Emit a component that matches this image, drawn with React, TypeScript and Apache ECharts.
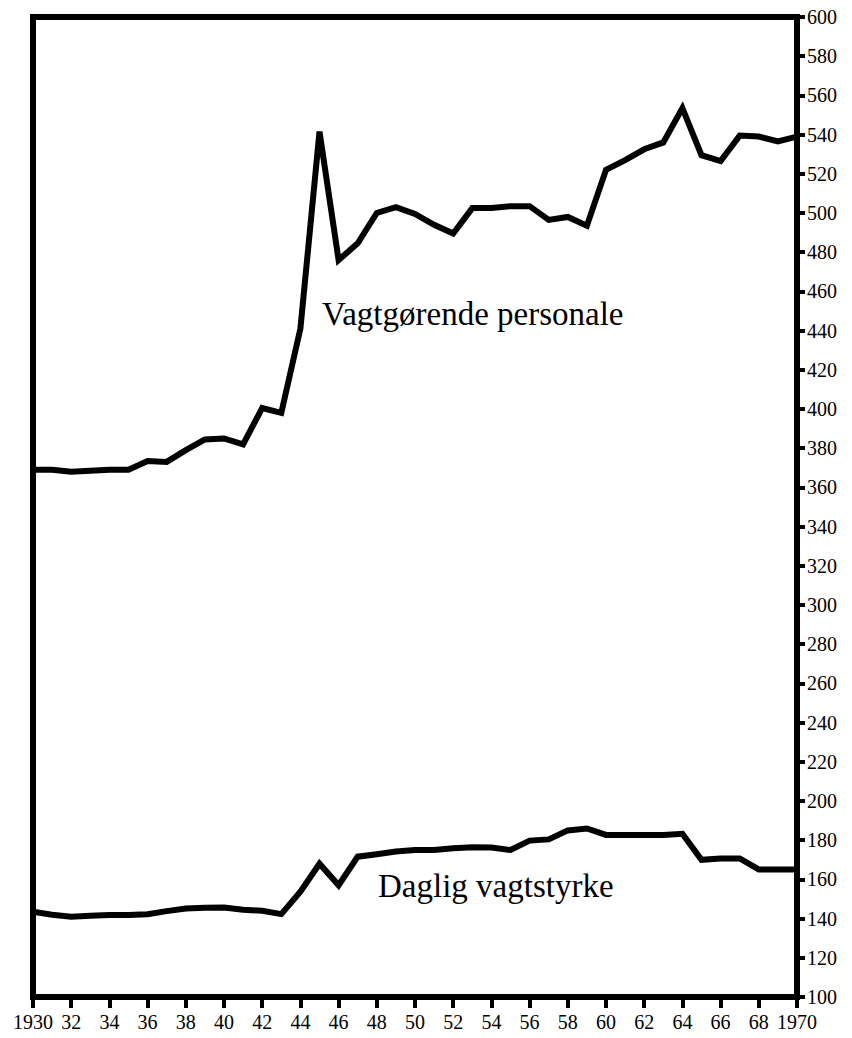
import React, { useEffect, useRef } from "react";
import * as echarts from "echarts";

const years = [1930,1931,1932,1933,1934,1935,1936,1937,1938,1939,1940,1941,1942,1943,1944,1945,1946,1947,1948,1949,1950,1951,1952,1953,1954,1955,1956,1957,1958,1959,1960,1961,1962,1963,1964,1965,1966,1967,1968,1969,1970];
const personale = [369,369,368,368.5,369,369,373.5,373,379,384.5,385,382,400.5,398,441,541.5,476,484.5,500,503,499.5,494,489.5,502.5,502.5,503.5,503.5,496.5,498,493.5,522,527,532.5,536,553.5,529.5,526.5,539.5,539,536.5,539];
const daglig = [143.5,142,141,141.5,141.8,141.8,142.2,143.8,145.2,145.5,145.7,144.5,144,142.3,153.7,168,157,171.6,172.8,174.2,175,175,175.9,176.4,176.3,175,179.8,180.4,185,186,182.7,182.7,182.7,182.7,183.3,170,170.7,170.7,165.1,165,165];
const personaleLabel = "Vagtgørende personale";
const dagligLabel = "Daglig vagtstyrke";

const FONT = "Liberation Serif";

export default function App() {
  const ref = useRef<HTMLDivElement>(null);
  useEffect(() => {
    if (!ref.current) return;
    const chart = echarts.init(ref.current, null, { renderer: "svg" });
    const toPairs = (vals: number[]) => years.map((y, i) => [y, vals[i]]);
    const lineStyle = { color: "#000", width: 6, join: "miter" as const };
    chart.setOption({
      animation: false,
      backgroundColor: "#fff",
      grid: {
        left: 33,
        right: 55,
        top: 17,
        bottom: 41,
        show: true,
        borderColor: "#000",
        borderWidth: 6,
      },
      xAxis: {
        type: "value",
        min: 1930,
        max: 1970,
        interval: 2,
        axisLine: { show: true, lineStyle: { color: "#000", width: 6 } },
        axisTick: { show: true, length: 11, lineStyle: { color: "#000", width: 4 } },
        splitLine: { show: false },
        axisLabel: {
          color: "#000",
          fontFamily: FONT,
          fontSize: 20,
          margin: 15,
          formatter: (v: number) => (v === 1930 || v === 1970 ? String(v) : String(v % 100)),
        },
      },
      yAxis: {
        type: "value",
        position: "right",
        min: 100,
        max: 600,
        interval: 20,
        axisLine: { show: true, lineStyle: { color: "#000", width: 6 } },
        axisTick: { show: true, length: 8, lineStyle: { color: "#000", width: 4 } },
        splitLine: { show: false },
        axisLabel: {
          color: "#000",
          fontFamily: FONT,
          fontSize: 20,
          margin: 10,
        },
      },
      series: [
        {
          type: "line",
          data: toPairs(personale),
          symbol: "none",
          lineStyle,
        },
        {
          type: "line",
          data: toPairs(daglig),
          symbol: "none",
          lineStyle,
        },
      ],
      graphic: [
        {
          type: "text",
          left: 322,
          top: 297,
          style: { text: personaleLabel, fill: "#000", font: `33px '${FONT}'` },
        },
        {
          type: "text",
          left: 378,
          top: 869,
          style: { text: dagligLabel, fill: "#000", font: `33px '${FONT}'` },
        },
      ],
    });
    return () => chart.dispose();
  }, []);
  return (
    <div
      ref={ref}
      style={{ position: "fixed", left: 0, top: 0, width: 852, height: 1038, background: "#fff" }}
    />
  );
}
